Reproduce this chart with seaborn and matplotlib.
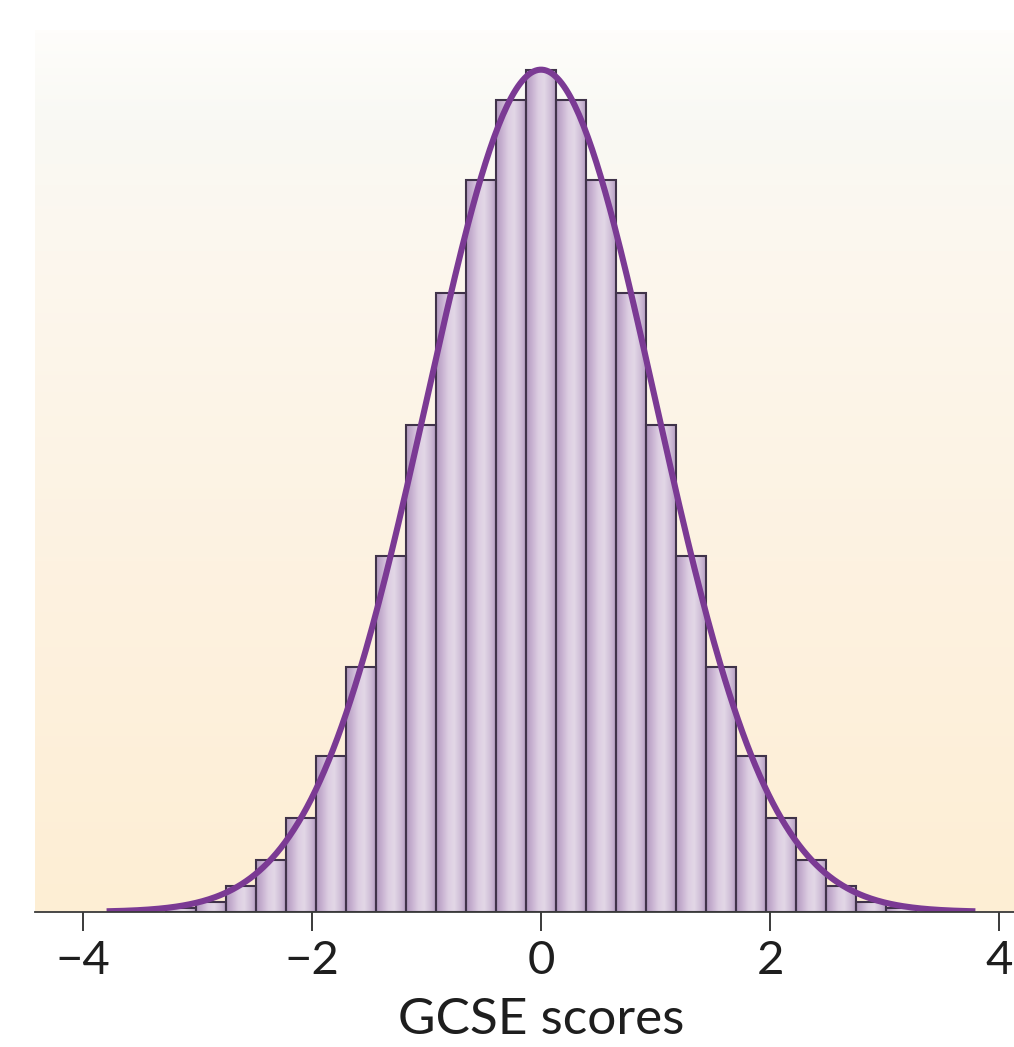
import numpy as np
import pandas as pd
import seaborn as sns
import matplotlib.pyplot as plt
from matplotlib.colors import LinearSegmentedColormap

# Histogram of standardised GCSE scores (percentage of pupils per bin)
bin_width = 0.262
bin_edges = list(np.linspace(-12.5 * bin_width, 12.5 * bin_width, 26))
bin_centers = [(a + b) / 2 for a, b in zip(bin_edges[:-1], bin_edges[1:])]
percent_pupils = [0.05, 0.12, 0.32, 0.65, 1.17, 1.94, 3.04, 4.42, 6.04, 7.68, 9.08, 10.07,
                  10.45,
                  10.07, 9.08, 7.68, 6.04, 4.42, 3.04, 1.94, 1.17, 0.65, 0.32, 0.12, 0.05]

# Fitted normal curve parameters
fit_mean, fit_sd = 0.0, 1.0
curve_range = (-3.79, 3.79)

x_ticks = [-4, -2, 0, 2, 4]
x_label = "GCSE scores"

sns.set_style("white")
plt.rcParams["font.family"] = ["Lato", "DejaVu Sans"]

fig = plt.figure(figsize=(10.14, 10.47), dpi=100)
ax = fig.add_axes([0.0345, 0.129, 0.9655, 0.842])

df = pd.DataFrame({"score": bin_centers, "percent": percent_pupils})
sns.histplot(data=df, x="score", weights="percent", bins=bin_edges, ax=ax,
             stat="count", element="bars", fill=True, legend=False)

xlim = (-4.415, 4.127)
ylim = (0, 10.94)
ax.set_xlim(*xlim)
ax.set_ylim(*ylim)

# Soft vertical background wash: near-white at the top, warm cream at the bottom
bg_cmap = LinearSegmentedColormap.from_list(
    "wash", [(0.0, "#fdeed4"), (0.4, "#fdf2e1"), (0.75, "#fcf7ee"), (0.9, "#f9f9f4"), (1.0, "#fefdfb")])
grad = np.linspace(0, 1, 256).reshape(-1, 1)
ax.imshow(grad, cmap=bg_cmap, origin="lower", aspect="auto",
          extent=[0, 1, 0, 1], transform=ax.transAxes, zorder=0)

# Cylindrical shading on each bar
bar_cmap = LinearSegmentedColormap.from_list(
    "bar", ["#b099be", "#c8b2d1", "#ddcee2", "#e2d7e6", "#cfbdd7", "#b199bf"])
shade = np.linspace(0, 1, 128).reshape(1, -1)
for patch in list(ax.patches):
    x0, y0 = patch.get_x(), patch.get_y()
    w, h = patch.get_width(), patch.get_height()
    if h <= 0:
        continue
    ax.imshow(shade, cmap=bar_cmap, aspect="auto", extent=[x0, x0 + w, y0, y0 + h],
              zorder=1, interpolation="bilinear")
    patch.set_facecolor("none")
    patch.set_edgecolor("#40334a")
    patch.set_linewidth(1.5)
    patch.set_zorder(2)

ax.set_xlim(*xlim)
ax.set_ylim(*ylim)

# Normal curve scaled to the bin width
curve_x = np.linspace(*curve_range, 400)
curve_y = 100 * bin_width * np.exp(-0.5 * ((curve_x - fit_mean) / fit_sd) ** 2) / (fit_sd * np.sqrt(2 * np.pi))
sns.lineplot(x=curve_x, y=curve_y, ax=ax, color="#7b3a94", linewidth=4.4, zorder=3)
ax.lines[-1].set_solid_capstyle("butt")

for side in ["left", "top", "right"]:
    ax.spines[side].set_visible(False)
ax.spines["bottom"].set_color("#3a3a3a")
ax.spines["bottom"].set_linewidth(1.3)
ax.spines["bottom"].set_zorder(4)

ax.set_yticks([])
ax.set_xticks(x_ticks)
ax.set_xticklabels([f"{t}".replace("-", "\u2212") for t in x_ticks])
ax.tick_params(axis="x", direction="out", length=14, width=1.4, color="#3a3a3a",
               labelsize=34, labelcolor="#1e1e1e", pad=6, bottom=True)
ax.set_xlabel(x_label, fontsize=37, color="#1e1e1e")
ax.xaxis.set_label_coords((0 - xlim[0]) / (xlim[1] - xlim[0]), -0.096)
ax.xaxis.label.set_va("top")
ax.set_ylabel("")

fig.savefig("out.png", dpi=100, facecolor="white")
